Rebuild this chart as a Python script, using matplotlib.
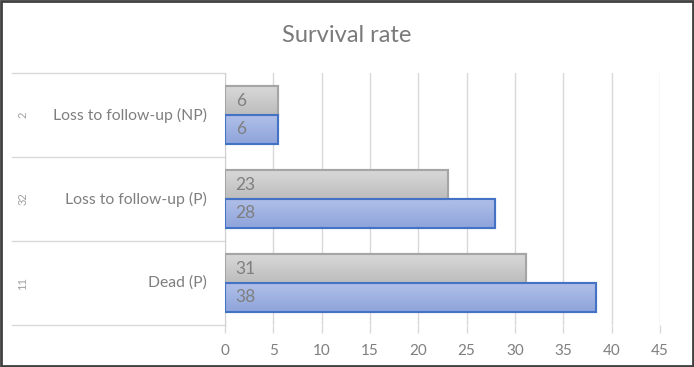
import matplotlib
matplotlib.use("Agg")
import matplotlib.pyplot as plt
import numpy as np
from matplotlib.colors import LinearSegmentedColormap
from matplotlib.patches import Rectangle
from matplotlib.transforms import blended_transform_factory, offset_copy

plt.rcParams["font.family"] = ["Lato", "DejaVu Sans"]

# data, bottom to top
categories = ["Dead (P)", "Loss to follow-up (P)", "Loss to follow-up (NP)"]
group_counts = ["11", "32", "2"]
gray_values = [31.1, 23.1, 5.5]
blue_values = [38.4, 27.9, 5.5]
x_ticks = [0, 5, 10, 15, 20, 25, 30, 35, 40, 45]

TXT = "#7f7f7f"
W, H = 694, 367
fig = plt.figure(figsize=(W / 100, H / 100), dpi=100)
ax = fig.add_axes([225 / W, 42 / H, 435 / W, 252 / H])

y = np.arange(len(categories)) + 0.5
bh = 0.34
gray_bars = ax.barh(y + bh / 2, gray_values, height=bh, color="#cbcbcb",
                    edgecolor="#a5a5a5", linewidth=1.5, zorder=3)
blue_bars = ax.barh(y - bh / 2, blue_values, height=bh, color="#9fb3e0",
                    edgecolor="#4472c4", linewidth=1.5, zorder=3)


def shade(bars, top, bottom):
    # vertical gradient inside each bar, like the office fill
    cmap = LinearSegmentedColormap.from_list("g", [bottom, top])
    grad = np.linspace(0, 1, 64).reshape(-1, 1)
    for p in bars:
        x0, y0 = p.get_x(), p.get_y()
        im = ax.imshow(grad, cmap=cmap, aspect="auto", origin="lower",
                       extent=[x0, x0 + p.get_width(), y0, y0 + p.get_height()], zorder=3.5)
        im.set_clip_path(p)
        edge = Rectangle((x0, y0), p.get_width(), p.get_height(), fill=False,
                         edgecolor=p.get_edgecolor(), linewidth=1.5, zorder=3.6)
        ax.add_patch(edge)


shade(gray_bars, "#d8d8d8", "#bdbdbd")
shade(blue_bars, "#b0bfe8", "#8ea4db")

for yi, gv, bv in zip(y, gray_values, blue_values):
    ax.text(1.1, yi + bh / 2, "%.0f" % gv, va="center", ha="left", color=TXT, fontsize=12.5, zorder=4)
    ax.text(1.1, yi - bh / 2, "%.0f" % bv, va="center", ha="left", color=TXT, fontsize=12.5, zorder=4)

ax.set_xlim(0, 45)
ax.set_ylim(0, 3)
ax.set_xticks(x_ticks)
ax.set_xticklabels([str(t) for t in x_ticks], color=TXT, fontsize=11)
ax.tick_params(axis="x", length=6, color="#d9d9d9", width=1, pad=8)
ax.set_yticks([])
ax.grid(axis="x", color="#d9d9d9", linewidth=1, zorder=0)
for s in ["top", "right", "bottom"]:
    ax.spines[s].set_visible(False)
ax.spines["left"].set_color("#d0d0d0")

# multi-level category axis
tr = blended_transform_factory(ax.transAxes, ax.transData)
for b in range(len(categories) + 1):
    ax.plot([-213 / 435, 0], [b, b], transform=tr, color="#d9d9d9", lw=1, clip_on=False)
lab_tr = offset_copy(tr, fig=fig, x=-18, y=0, units="dots")
for yi, name, cnt in zip(y, categories, group_counts):
    ax.text(0, yi, name, transform=lab_tr, ha="right", va="center", color=TXT, fontsize=11.3)
    ax.text(-202 / 435, yi, cnt, transform=tr, ha="center", va="center", rotation=90,
            color="#a0a0a0", fontsize=8)

fig.text(0.5, 1 - 35 / H, "Survival rate", ha="center", va="center", color="#7a7a7a", fontsize=17)

fig.patches.append(Rectangle((0.002, 0.003), 0.996, 0.994, transform=fig.transFigure,
                             fill=False, edgecolor="#404040", linewidth=2))

fig.savefig("out.png", dpi=100)
